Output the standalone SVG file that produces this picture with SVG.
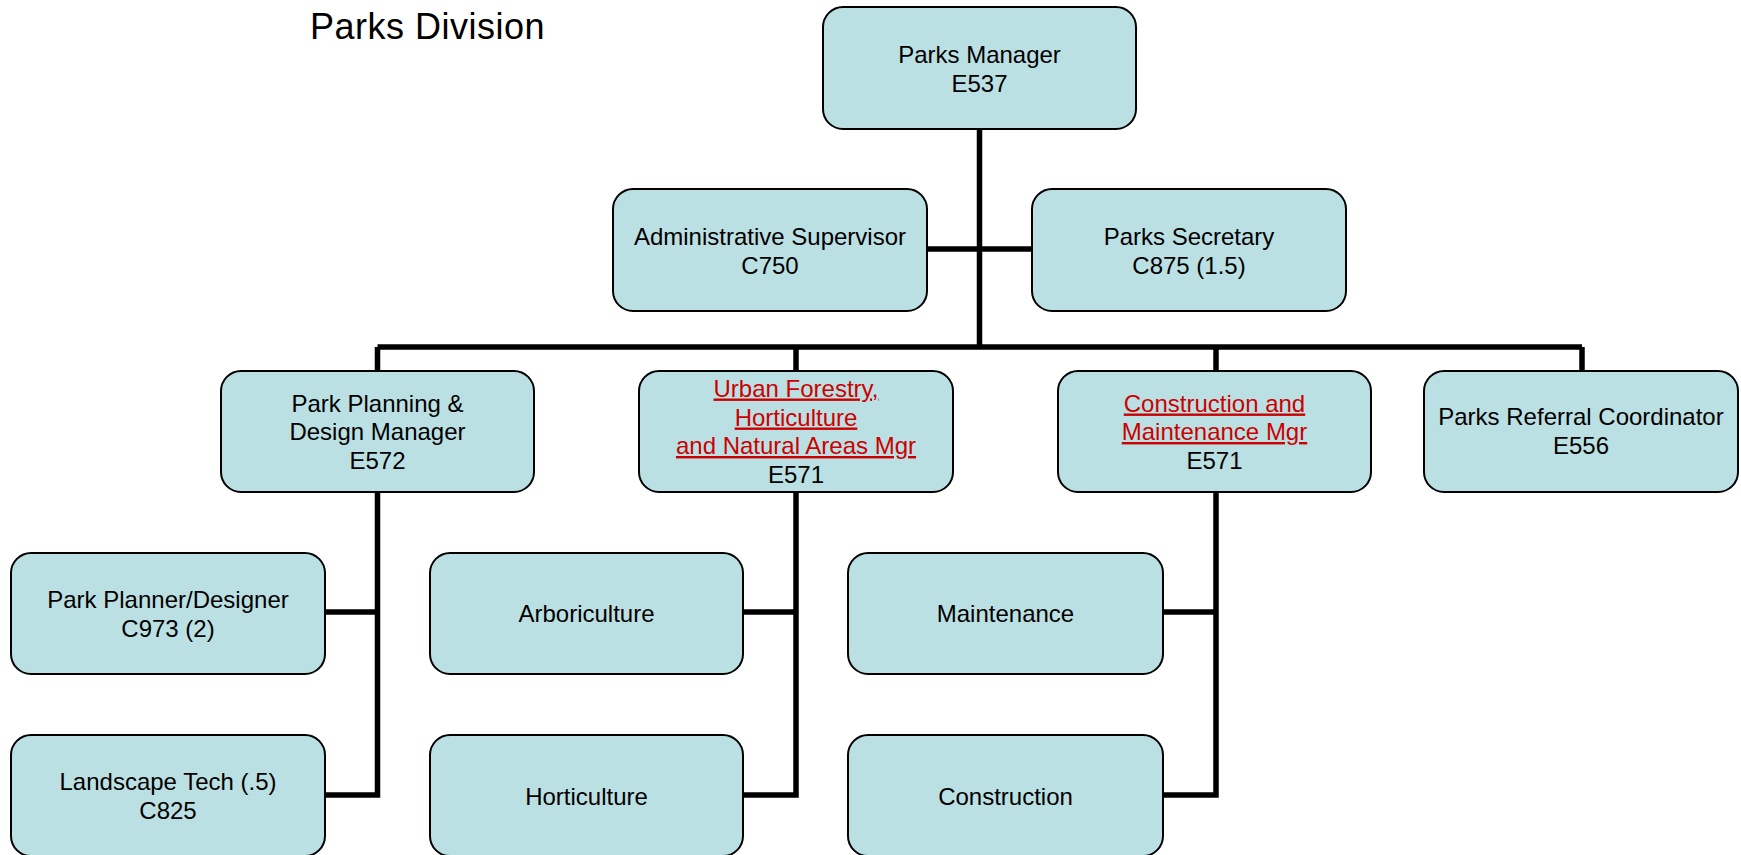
<svg xmlns="http://www.w3.org/2000/svg" width="1741" height="855" viewBox="0 0 1741 855">
<style>
.box{fill:#BBE0E3;stroke:#000;stroke-width:2}
.t{font-family:"Liberation Sans",Arial,sans-serif;font-size:24px;fill:#000;text-anchor:middle}
.r{fill:#CC0000;text-decoration:underline}
.c{fill:none;stroke:#000;stroke-width:5.5}
.title{font-family:"Liberation Sans",Arial,sans-serif;font-size:36px;letter-spacing:0.5px;fill:#000}
</style>
<rect width="1741" height="855" fill="#fff"/>
<text class="title" x="310" y="38.5">Parks Division</text>
<g id="connectors">
<path class="c" d="M979.5 129 V347"/>
<path class="c" d="M927 249 H1032"/>
<path class="c" d="M377.5 347 H1582"/>
<path class="c" d="M377.5 347 V371 M796 347 V371 M1216 347 V371 M1582 347 V371"/>
<path class="c" d="M377.5 492 V795 H325 M325 612 H377.5"/>
<path class="c" d="M796 492 V795 H743 M743 612 H796"/>
<path class="c" d="M1216 492 V795 H1163 M1163 612 H1216"/>
</g>
<g id="parks-manager"><rect class="box" x="823" y="7" width="313" height="122" rx="20"/><text class="t" x="979.5" y="63">Parks Manager</text><text class="t" x="979.5" y="91.5">E537</text></g>
<g id="admin-supervisor"><rect class="box" x="613" y="189" width="314" height="122" rx="20"/><text class="t" x="770" y="245">Administrative Supervisor</text><text class="t" x="770" y="273.5">C750</text></g>
<g id="parks-secretary"><rect class="box" x="1032" y="189" width="314" height="122" rx="20"/><text class="t" x="1189" y="245">Parks Secretary</text><text class="t" x="1189" y="273.5">C875 (1.5)</text></g>
<g id="park-planning"><rect class="box" x="221" y="371" width="313" height="121" rx="20"/><text class="t" x="377.5" y="411.5">Park Planning &amp;</text><text class="t" x="377.5" y="440">Design Manager</text><text class="t" x="377.5" y="468.5">E572</text></g>
<g id="urban-forestry"><rect class="box" x="639" y="371" width="314" height="121" rx="20"/><text class="t r" x="796" y="396.5">Urban Forestry,</text><text class="t r" x="796" y="425.5">Horticulture</text><text class="t r" x="796" y="454">and Natural Areas Mgr</text><text class="t" x="796" y="482.5">E571</text></g>
<g id="construction-maintenance"><rect class="box" x="1058" y="371" width="313" height="121" rx="20"/><text class="t r" x="1214.5" y="411.5">Construction and</text><text class="t r" x="1214.5" y="440">Maintenance Mgr</text><text class="t" x="1214.5" y="468.5">E571</text></g>
<g id="referral-coordinator"><rect class="box" x="1424" y="371" width="314" height="121" rx="20"/><text class="t" x="1581" y="425">Parks Referral Coordinator</text><text class="t" x="1581" y="453.5">E556</text></g>
<g id="park-planner"><rect class="box" x="11" y="553" width="314" height="121" rx="20"/><text class="t" x="168" y="608">Park Planner/Designer</text><text class="t" x="168" y="636.5">C973 (2)</text></g>
<g id="landscape-tech"><rect class="box" x="11" y="735" width="314" height="121" rx="20"/><text class="t" x="168" y="790">Landscape Tech (.5)</text><text class="t" x="168" y="818.5">C825</text></g>
<g id="arboriculture"><rect class="box" x="430" y="553" width="313" height="121" rx="20"/><text class="t" x="586.5" y="622">Arboriculture</text></g>
<g id="horticulture"><rect class="box" x="430" y="735" width="313" height="121" rx="20"/><text class="t" x="586.5" y="805">Horticulture</text></g>
<g id="maintenance"><rect class="box" x="848" y="553" width="315" height="121" rx="20"/><text class="t" x="1005.5" y="622">Maintenance</text></g>
<g id="construction"><rect class="box" x="848" y="735" width="315" height="121" rx="20"/><text class="t" x="1005.5" y="805">Construction</text></g>
</svg>
